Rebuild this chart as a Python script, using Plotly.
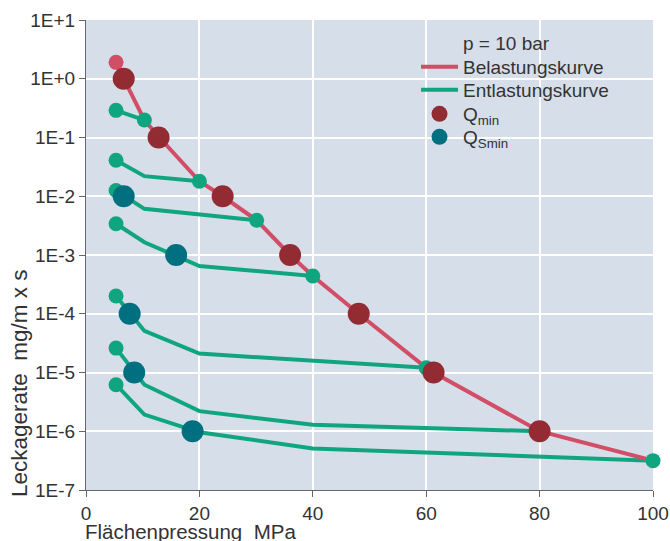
import plotly.graph_objects as go

# Belastungskurve (loading curve)
load_x = [5.3, 6.65, 10.3, 12.8, 20, 24.1, 30.1, 36, 40, 48.1, 60, 61.3, 80, 100]
load_y = [1.9, 1.0, 0.198, 0.104, 0.018, 0.01, 0.0039, 0.001, 4.4e-4, 1e-4, 1.2e-5, 1e-5, 1e-6, 3.16e-7]

# Entlastungskurven (unloading curves)
e1_x = [5.3, 10.3]
e1_y = [0.29, 0.198]
e2_x = [5.3, 10.3, 20]
e2_y = [0.041, 0.022, 0.018]
e3_x = [5.3, 10.3, 30.1]
e3_y = [0.0125, 0.0061, 0.0039]
e4_x = [5.3, 10.3, 20, 40]
e4_y = [0.0034, 0.00165, 6.5e-4, 4.4e-4]
e5_x = [5.3, 10.3, 20, 60]
e5_y = [2.0e-4, 5.1e-5, 2.1e-5, 1.2e-5]
e6_x = [5.3, 10.3, 20, 40, 80]
e6_y = [2.6e-5, 6.2e-6, 2.2e-6, 1.29e-6, 1.0e-6]
e7_x = [5.3, 10.3, 20, 40, 100]
e7_y = [6.2e-6, 1.92e-6, 9.6e-7, 5.1e-7, 3.16e-7]

# Q_min points
qmin_x = [6.65, 12.8, 24.1, 36, 48.1, 61.3, 80]
qmin_y = [1.0, 0.1, 0.01, 1e-3, 1e-4, 1e-5, 1e-6]

# Q_Smin points
qsmin_x = [6.65, 15.9, 7.7, 8.5, 18.8]
qsmin_y = [1e-2, 1e-3, 1e-4, 1e-5, 1e-6]

x_ticks = [0, 20, 40, 60, 80, 100]
y_ticks = [1e-7, 1e-6, 1e-5, 1e-4, 1e-3, 1e-2, 1e-1, 1, 10]
y_ticktext = ["1E-7", "1E-6", "1E-5", "1E-4", "1E-3", "1E-2", "1E-1", "1E+0", "1E+1"]

RED = "#d24d66"
GREEN = "#0fa57f"
QMIN_C = "#922b32"
QSMIN_C = "#006f80"
BG = "#d6dee9"
TXT = "#333333"
FONT = "Liberation Sans, Arial, sans-serif"

curves = [(e1_x, e1_y), (e2_x, e2_y), (e3_x, e3_y), (e4_x, e4_y),
          (e5_x, e5_y), (e6_x, e6_y), (e7_x, e7_y)]

fig = go.Figure()

for i, (cx, cy) in enumerate(curves):
    fig.add_trace(go.Scatter(
        x=cx, y=cy, mode="lines",
        line=dict(color=GREEN, width=4),
        name="Entlastungskurve", legend="legend2",
        showlegend=(i == 0), cliponaxis=False))

fig.add_trace(go.Scatter(
    x=load_x, y=load_y, mode="lines",
    line=dict(color=RED, width=4),
    name="Belastungskurve", legend="legend", cliponaxis=False))

# green end markers of unloading curves
gx = []
gy = []
for cx, cy in curves:
    gx += [cx[0], cx[-1]]
    gy += [cy[0], cy[-1]]
fig.add_trace(go.Scatter(
    x=gx, y=gy, mode="markers",
    marker=dict(color=GREEN, size=15, line=dict(width=0)),
    showlegend=False, cliponaxis=False))

# start point of loading curve
fig.add_trace(go.Scatter(
    x=load_x[:1], y=load_y[:1], mode="markers",
    marker=dict(color=RED, size=15, line=dict(width=0)),
    showlegend=False, cliponaxis=False))

fig.add_trace(go.Scatter(
    x=qmin_x, y=qmin_y, mode="markers",
    marker=dict(color=QMIN_C, size=22, line=dict(width=0)),
    name="Q<sub>min</sub>", legend="legend3", cliponaxis=False))

fig.add_trace(go.Scatter(
    x=qsmin_x, y=qsmin_y, mode="markers",
    marker=dict(color=QSMIN_C, size=22, line=dict(width=0)),
    name="Q<sub>Smin</sub>", legend="legend4", cliponaxis=False))

axis_common = dict(
    showgrid=True, gridcolor="white", gridwidth=2,
    showline=True, linecolor="#666666", linewidth=1,
    ticks="outside", ticklen=6, tickcolor="#666666",
    zeroline=False, automargin=False,
    tickfont=dict(family=FONT, size=19, color=TXT),
)


def pyp(py):
    # helper: pixel row -> paper y (plot area 20..490)
    return 1 - (py - 20) / 470.0


def pxp(px):
    return (px - 86) / 567.0


def leg(py):
    return dict(x=pxp(416), y=pyp(py), xanchor="left", yanchor="middle",
                bgcolor="rgba(0,0,0,0)", borderwidth=0, itemwidth=37,
                font=dict(family=FONT, size=19, color=TXT))


fig.update_layout(
    width=670, height=541,
    margin=dict(l=86, r=17, t=20, b=51),
    paper_bgcolor="white", plot_bgcolor=BG,
    font=dict(family=FONT, size=19, color=TXT),
    xaxis=dict(range=[0, 100], tickvals=x_ticks, **axis_common),
    yaxis=dict(type="log", range=[-7, 1], tickvals=y_ticks,
               ticktext=y_ticktext, **axis_common),
    legend=leg(67),
    legend2=leg(90),
    legend3=leg(114),
    legend4=leg(137),
    showlegend=True,
    annotations=[
        dict(text="p = 10 bar", xref="paper", yref="paper",
             x=pxp(461), y=pyp(44), xanchor="left", yanchor="middle",
             showarrow=False, font=dict(family=FONT, size=19, color=TXT)),
        dict(text="Flächenpressung\u00a0 MPa", xref="paper", yref="paper",
             x=pxp(83), y=pyp(531), xanchor="left", yanchor="middle",
             showarrow=False, font=dict(family=FONT, size=20.5, color=TXT)),
        dict(text="Leckagerate\u00a0 mg/m x s", xref="paper", yref="paper",
             x=pxp(19), y=pyp(499), xanchor="center", yanchor="bottom",
             textangle=-90, showarrow=False,
             font=dict(family=FONT, size=22.5, color=TXT)),
    ],
)

fig.write_html(
    "out.html",
    config={"displayModeBar": False},
    post_script="document.body.style.margin='0';document.body.style.overflow='hidden';",
)
